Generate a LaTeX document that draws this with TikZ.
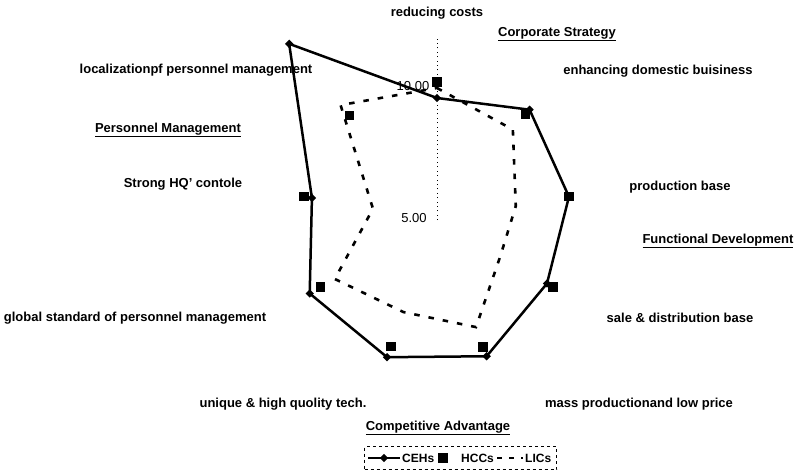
\documentclass[tikz,border=0pt]{standalone}
\usepackage{fontspec}
\setmainfont{Liberation Sans}
\usetikzlibrary{calc,shapes.geometric}
\begin{document}
\begin{tikzpicture}[x=1pt,y=-1pt,
  font=\bfseries\fontsize{13}{15}\selectfont,
  lbl/.style={inner sep=0pt, anchor=center},
  cehline/.style={line width=2.5pt, line join=round},
  licline/.style={line width=2.6pt, dash pattern=on 5.5pt off 9pt},
  dmark/.style={diamond, fill=black, inner sep=0pt, minimum size=8.5pt},
  smark/.style={rectangle, fill=black, inner sep=0pt, minimum size=9.5pt},
  axisline/.style={line width=0.8pt, dash pattern=on 0.9pt off 3.5pt}]
\useasboundingbox (0,0) rectangle (798,476);
\coordinate (C) at (437,220);
\coordinate (top) at (437,37);
\begin{scope}[shift={(437,220)}, y=1pt]
  \foreach \r [count=\i from 0] in {122,144,134,127,145,146,147,127,230}
    \coordinate (ceh\i) at ({90-40*\i}:\r);
  \foreach \r [count=\i from 0] in {138,138,134,134,135,134.5,134.3,135.3,136.5}
    \coordinate (hcc\i) at ({90-40*\i}:\r);
  \foreach \r [count=\i from 0] in {132,118,80,73,114,98,118,65,150}
    \coordinate (lic\i) at ({90-40*\i}:\r);
\end{scope}
% axis
\draw[axisline] (C) -- (top);
% series
\draw[licline] (lic0) -- (lic1) -- (lic2) -- (lic3) -- (lic4) -- (lic5) -- (lic6) -- (lic7) -- (lic8) -- cycle;
\draw[cehline] (ceh0) -- (ceh1) -- (ceh2) -- (ceh3) -- (ceh4) -- (ceh5) -- (ceh6) -- (ceh7) -- (ceh8) -- cycle;
\foreach \i in {0,...,8} {
  \node[dmark] (dm\i) at (ceh\i) {};
  \node[smark] (sm\i) at (hcc\i) {};
}
% scale labels
\node[lbl, font=\fontsize{13}{15}\selectfont] (s10) at (413,86) {10.00};
\node[lbl, font=\fontsize{13}{15}\selectfont] (s5) at (414,218) {5.00};
% axis labels
\node[lbl] (l0) at (437,13) {reducing costs};
\node[lbl] (l1) at (658,71) {enhancing domestic buisiness};
\node[lbl] (l2) at (680,187) {production base};
\node[lbl] (l3) at (680,318) {sale \& distribution base};
\node[lbl] (l4) at (639,404) {mass productionand low price};
\node[lbl] (l5) at (283,404) {unique \& high quolity tech.};
\node[lbl] (l6) at (135,318) {global standard of personnel management};
\node[lbl] (l7) at (183,184) {Strong HQ' contole};
\node[lbl] (l8) at (196,70) {localizationpf personnel management};
% group headings
\node[lbl] (g1) at (557,34) {\underline{Corporate Strategy}};
\node[lbl] (g2) at (168,130) {\underline{Personnel Management}};
\node[lbl] (g3) at (718,241) {\underline{Functional Development}};
\node[lbl] (g4) at (438,428) {\underline{Competitive Advantage}};
% legend
\node[draw, dashed, line width=0.5pt, minimum width=192pt, minimum height=23pt, inner sep=0pt] (leg) at (460.5,458) {};
\coordinate (la) at (368,458);
\coordinate (lb) at (400,458);
\draw[line width=2.2pt] (la) -- (lb);
\node[dmark] (ld) at (384,458) {};
\node[lbl, anchor=west, font=\bfseries\fontsize{12}{14}\selectfont] (lt1) at (402,458) {CEHs};
\node[smark] (ls) at (443,458) {};
\node[lbl, anchor=west, font=\bfseries\fontsize{12}{14}\selectfont] (lt2) at (461,458) {HCCs};
\coordinate (lc) at (497,458);
\coordinate (ldd) at (523,458);
\draw[line width=2.2pt, dash pattern=on 5pt off 7pt] (lc) -- (ldd);
\node[lbl, anchor=west, font=\bfseries\fontsize{12}{14}\selectfont] (lt3) at (525,458) {LICs};
\end{tikzpicture}
\end{document}
